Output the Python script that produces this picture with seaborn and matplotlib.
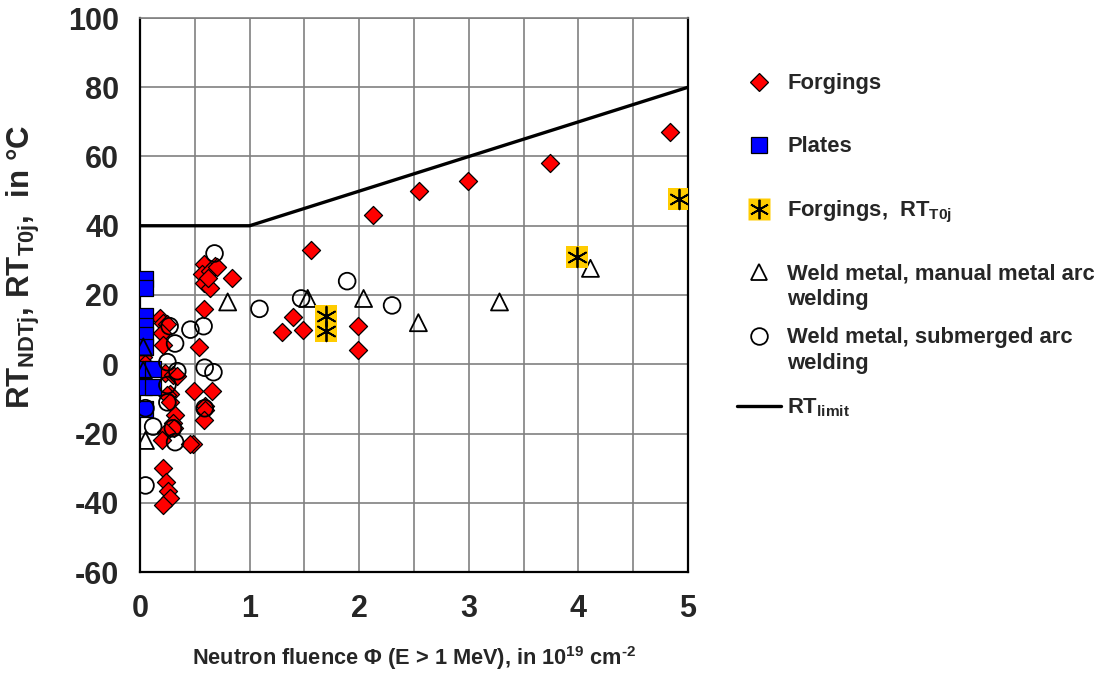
import matplotlib
matplotlib.use("Agg")
import matplotlib.pyplot as plt
from matplotlib.lines import Line2D
from matplotlib.ticker import MultipleLocator
import seaborn as sns

# ---------------- data ----------------
forg_x = [4.84, 3.74, 2.99, 2.55, 2.13, 1.56, 1.40, 1.30, 1.49, 1.99, 1.99, 0.84,
          0.58, 0.68, 0.57, 0.64, 0.58, 0.64, 0.70, 0.58, 0.62,
          0.54, 0.49, 0.66, 0.59, 0.59, 0.58, 0.48, 0.46,
          0.18, 0.21, 0.25, 0.20, 0.21, 0.23, 0.30, 0.34, 0.27, 0.25, 0.27, 0.32,
          0.30, 0.31, 0.24, 0.20, 0.21, 0.24, 0.26, 0.27, 0.21,
          0.03, 0.02, 0.05]
forg_y = [67, 58, 52.8, 50, 43, 33, 13.6, 9.2, 10, 11, 4, 25,
          29, 28.5, 26, 27, 23.4, 22, 28, 16, 25,
          5, -7.8, -7.8, -12, -13.3, -16, -23, -23,
          13.3, 12, 11.5, 9, 5.5, -2.5, -3, -3.5, -8.5, -9, -11, -14.7,
          -17, -18.5, -19.6, -22, -30, -34, -36.5, -38.5, -40.7,
          2, -6, 0]

plate_x = [0.05, 0.05, 0.05, 0.05, 0.05, 0.05, 0.04, 0.12, 0.04, 0.12, 0.05]
plate_y = [24.5, 22, 14, 11, 8.5, 5, -1.5, -1.5, -6.5, -6.5, -13]

t0j_x = [1.70, 1.70, 3.99, 4.92]
t0j_y = [13.9, 9.5, 31, 47.7]

mma_x = [0.80, 1.53, 2.04, 2.54, 3.28, 4.11, 0.03, 0.03, 0.05]
mma_y = [18, 19, 19, 12, 18, 27.7, 5, -1.7, -22]

saw_x = [0.68, 1.09, 1.47, 1.89, 2.30, 0.46, 0.58, 0.32, 0.25, 0.59, 0.67, 0.34,
         0.25, 0.25, 0.05, 0.12, 0.30, 0.32, 0.05, 0.59, 0.27]
saw_y = [32, 16, 19, 24, 17, 10, 11, 6, 0.6, -1, -2.3, -2,
         -6, -11, -12.7, -18, -18.5, -22.5, -35, -12.7, 11]

limit_x = [0, 1, 5]
limit_y = [40, 40, 80]

x_ticks = [0, 1, 2, 3, 4, 5]
y_ticks = [-60, -40, -20, 0, 20, 40, 60, 80, 100]

labels = ["Forgings", "Plates", "Forgings,  RT$_{\\mathbf{T0j}}$",
          "Weld metal, manual metal arc", "Weld metal, submerged arc",
          "RT$_{\\mathbf{limit}}$"]

# ---------------- style ----------------
sns.set_style("white")
plt.rcParams["font.family"] = ["Liberation Sans", "DejaVu Sans"]
plt.rcParams["font.weight"] = "bold"
plt.rcParams["axes.unicode_minus"] = False
plt.rcParams["mathtext.fontset"] = "custom"
plt.rcParams["mathtext.rm"] = "Liberation Sans:bold"
plt.rcParams["mathtext.bf"] = "Liberation Sans:bold"
plt.rcParams["mathtext.it"] = "Liberation Sans:bold"

W, H = 1101, 675
fig = plt.figure(figsize=(W / 100, H / 100), dpi=100)
ax = fig.add_axes([140 / W, (H - 572) / H, 548 / W, 554 / H])

# ---------------- marks ----------------
sns.scatterplot(x=forg_x, y=forg_y, marker="D", s=85, color="#ff0000",
                edgecolor="black", linewidth=0.9, ax=ax, legend=False, zorder=3)
sns.scatterplot(x=plate_x, y=plate_y, marker="s", s=130, color="#0000ff",
                edgecolor="black", linewidth=0.9, ax=ax, legend=False, zorder=3)
sns.scatterplot(x=mma_x, y=mma_y, marker="^", s=150, color="black",
                facecolor="none", edgecolor="black", linewidth=1.3, ax=ax,
                legend=False, zorder=4)
sns.scatterplot(x=saw_x, y=saw_y, marker="o", s=145, color="black",
                facecolor="none", edgecolor="black", linewidth=1.3, ax=ax,
                legend=False, zorder=4)
sns.scatterplot(x=t0j_x, y=t0j_y, marker="s", s=250, color="#ffcc00",
                edgecolor="none", linewidth=0, ax=ax, legend=False, zorder=5)
sns.scatterplot(x=t0j_x, y=t0j_y, marker=(6, 2, 0), s=200, color="black",
                linewidth=1.3, ax=ax, legend=False, zorder=6)
sns.lineplot(x=limit_x, y=limit_y, color="black", linewidth=2.4, ax=ax,
             legend=False, zorder=2)

# ---------------- axes ----------------
ax.set_xlim(0, 5)
ax.set_ylim(-60, 100)
ax.set_xticks(x_ticks)
ax.set_yticks(y_ticks)
ax.xaxis.set_minor_locator(MultipleLocator(0.5))
ax.grid(True, which="major", color="#808080", linewidth=1.2)
ax.grid(True, which="minor", axis="x", color="#808080", linewidth=1.2)
ax.set_axisbelow(True)
ax.tick_params(axis="both", which="major", labelsize=22, direction="out",
               length=7, width=1.2, color="black", pad=8)
ax.tick_params(axis="x", which="minor", length=0)
ax.tick_params(axis="x", which="major", pad=9)
for lab in ax.get_xticklabels() + ax.get_yticklabels():
    lab.set_fontweight("bold")
for side in ["left", "bottom", "right"]:
    ax.spines[side].set_color("black")
    ax.spines[side].set_linewidth(1.6)
ax.spines["top"].set_color("#808080")
ax.spines["top"].set_linewidth(1.2)

ax.set_xlabel("Neutron fluence \u03a6 (E > 1 MeV), in 10$^{19}$ cm$^{\u20102}$",
              fontsize=15.7, fontweight="bold")
ax.set_ylabel("RT$_{\\mathbf{NDTj}}$, RT$_{\\mathbf{T0j}}$,  in \u00b0C",
              fontsize=22.5, fontweight="bold")
ax.xaxis.set_label_coords(0.5, -0.13)
ax.yaxis.set_label_coords(-0.178, 0.55)

# ---------------- legend ----------------
fs = 15.8
h_forg = Line2D([], [], ls="none", marker="D", markersize=9,
                markerfacecolor="#ff0000", markeredgecolor="black", markeredgewidth=0.9)
h_plate = Line2D([], [], ls="none", marker="s", markersize=11.4,
                 markerfacecolor="#0000ff", markeredgecolor="black", markeredgewidth=0.9)
h_t0j_bg = Line2D([], [], ls="none", marker="s", markersize=15.8,
                  markerfacecolor="#ffcc00", markeredgecolor="none")
h_t0j_st = Line2D([], [], ls="none", marker=(6, 2, 0), markersize=14,
                  markeredgecolor="black", markeredgewidth=1.3)
h_mma = Line2D([], [], ls="none", marker="^", markersize=12.2,
               markerfacecolor="white", markeredgecolor="black", markeredgewidth=1.3)
h_saw = Line2D([], [], ls="none", marker="o", markersize=12,
               markerfacecolor="white", markeredgecolor="black", markeredgewidth=1.3)
h_lim = Line2D([], [], color="black", linewidth=2.4)

handles = [h_forg, h_plate, (h_t0j_bg, h_t0j_st), h_mma, h_saw, h_lim]
ypos = [84, 147, 212, 274, 338, 408]
for h, lab, yp in zip(handles, labels, ypos):
    fig.legend([h], [lab], loc="center left",
               bbox_to_anchor=(737 / W, 1 - yp / H), frameon=False,
               borderpad=0, borderaxespad=0, handlelength=2.0,
               handletextpad=0.28, prop={"size": fs, "weight": "bold"})

fig.text(787 / W, 1 - 300 / H, "welding", fontsize=fs, fontweight="bold",
         va="center", ha="left")
fig.text(787 / W, 1 - 364 / H, "welding", fontsize=fs, fontweight="bold",
         va="center", ha="left")

fig.savefig("out.png", dpi=100)
